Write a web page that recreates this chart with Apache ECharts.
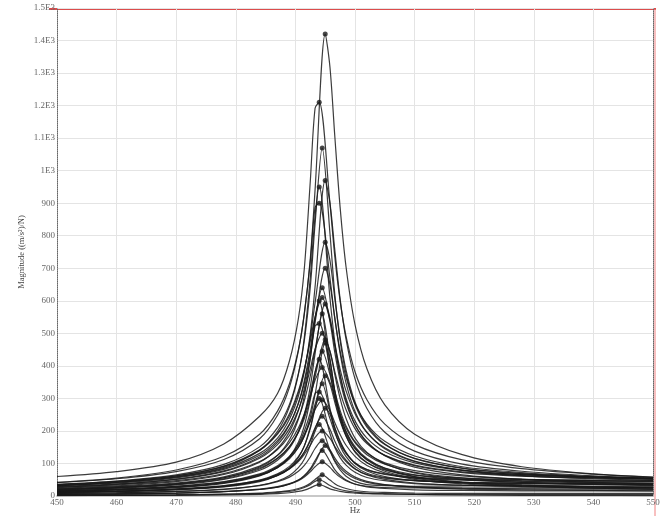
<!DOCTYPE html>
<html>
<head>
<meta charset="utf-8">
<script src="https://cdn.jsdelivr.net/npm/echarts@6/dist/echarts.min.js"></script>
<style>
html, body { margin: 0; padding: 0; background: #fff; }
#chart { width: 664px; height: 516px; }
</style>
</head>
<body>
<div id="chart"></div>
<script>
// frequency grid shared by all curves (Hz), the peak point is slotted in between
var hz = [450, 460, 470, 478, 484, 487, 489, 490.5, 491.5, 492.5, 493.3,
          495.8, 496.6, 497.5, 498.5, 500, 502, 505, 510, 518, 528, 540, 550];
var splitAt = 11;

// peak of each curve (marker)
var peakHz = [495.0, 494.0, 494.5, 495.0, 494.0, 494.0, 495.0, 495.0, 494.5, 494.5, 495.0, 494.5,
              494.0, 494.5, 495.0, 494.5, 494.0, 494.5, 495.0, 494.5, 494.0, 494.5, 495.0, 494.5,
              494.0, 494.5, 494.5, 494.5, 494.5, 494.5, 494.0, 494.0, 495.0, 494.0, 495.0, 494.0];
var peakMag = [1420, 1210, 1070, 970, 950, 900, 780, 700, 640, 610, 590, 560,
               530, 500, 470, 445, 420, 395, 370, 345, 320, 295, 270, 245,
               220, 200, 170, 140, 105, 65, 35, 600, 480, 300, 155, 50];

// magnitude of each curve on the hz grid
var c01 = [42, 55, 80, 122, 190, 261, 345, 449, 559, 730, 941, 1318, 1109, 888, 704, 527, 391, 280, 190, 127, 90, 68, 57];
var c02 = [60, 75, 104, 160, 245, 315, 415, 545, 700, 968, 1192, 899, 738, 600, 491, 382, 296, 221, 158, 111, 84, 67, 58];
var c03 = [36, 46, 65, 97, 151, 210, 281, 376, 478, 642, 836, 807, 622, 478, 376, 281, 212, 158, 116, 86, 69, 59, 54];
var c04 = [32, 42, 58, 85, 131, 178, 236, 307, 382, 499, 643, 900, 758, 606, 481, 360, 269, 196, 138, 98, 76, 62, 55];
var c05 = [32, 42, 59, 88, 141, 199, 274, 374, 488, 672, 860, 608, 475, 374, 300, 231, 178, 136, 102, 79, 66, 58, 54];
var c06 = [41, 53, 75, 112, 176, 248, 334, 446, 563, 720, 887, 669, 549, 446, 365, 284, 221, 168, 123, 90, 72, 60, 54];
var c07 = [35, 45, 62, 91, 140, 190, 246, 317, 387, 488, 594, 724, 609, 488, 387, 289, 217, 160, 115, 85, 68, 58, 53];
var c08 = [31, 40, 56, 82, 125, 170, 221, 284, 347, 438, 533, 650, 547, 438, 347, 260, 196, 145, 106, 80, 66, 58, 53];
var c09 = [29, 37, 52, 77, 120, 165, 219, 286, 355, 452, 548, 536, 442, 355, 286, 219, 167, 124, 89, 65, 51, 42, 38];
var c10 = [34, 44, 62, 92, 142, 193, 253, 323, 390, 476, 550, 541, 467, 390, 323, 253, 195, 148, 107, 79, 62, 53, 48];
var c11 = [26, 34, 47, 69, 106, 143, 186, 240, 293, 369, 450, 548, 461, 369, 293, 219, 165, 125, 93, 72, 61, 55, 51];
var c12 = [19, 24, 34, 51, 79, 110, 147, 197, 250, 336, 437, 422, 325, 250, 197, 147, 111, 82, 59, 43, 34, 28, 25];
var c13 = [24, 31, 44, 66, 104, 146, 197, 263, 331, 424, 522, 394, 323, 263, 215, 167, 132, 102, 78, 62, 52, 47, 44];
var c14 = [28, 36, 51, 75, 116, 158, 207, 265, 320, 391, 451, 444, 383, 320, 265, 207, 161, 125, 95, 74, 63, 56, 53];
var c15 = [16, 20, 28, 41, 64, 87, 114, 149, 185, 242, 312, 415, 321, 242, 185, 135, 102, 80, 64, 55, 51, 49, 48];
var c16 = [20, 26, 36, 53, 83, 115, 152, 199, 247, 315, 381, 373, 307, 247, 199, 152, 115, 85, 60, 41, 31, 24, 21];
var c17 = [14, 19, 26, 39, 62, 88, 121, 165, 216, 297, 380, 269, 210, 165, 133, 102, 81, 66, 55, 49, 46, 44, 43];
var c18 = [22, 29, 40, 59, 92, 125, 164, 209, 253, 308, 356, 350, 303, 253, 209, 164, 127, 98, 73, 56, 46, 41, 38];
var c19 = [16, 21, 30, 43, 66, 90, 117, 150, 184, 231, 282, 343, 289, 231, 184, 137, 103, 76, 55, 40, 33, 28, 25];
var c20 = [12, 15, 21, 31, 49, 68, 91, 121, 154, 207, 269, 260, 200, 154, 121, 91, 70, 57, 47, 42, 39, 38, 37];
var c21 = [15, 19, 27, 40, 63, 88, 119, 159, 200, 256, 315, 238, 195, 159, 130, 101, 81, 68, 57, 51, 49, 47, 46];
var c22 = [17, 21, 30, 44, 68, 93, 122, 156, 189, 230, 266, 262, 226, 189, 156, 122, 94, 71, 51, 37, 29, 24, 21];
var c23 = [12, 15, 22, 32, 48, 66, 85, 110, 134, 169, 206, 251, 211, 169, 134, 100, 77, 60, 48, 41, 38, 36, 35];
var c24 = [11, 14, 20, 29, 46, 63, 84, 110, 136, 173, 210, 205, 169, 136, 110, 84, 65, 51, 40, 33, 30, 28, 27];
var c25 = [8, 10, 14, 21, 33, 46, 63, 87, 113, 156, 199, 141, 110, 87, 70, 54, 42, 34, 28, 24, 22, 21, 21];
var c26 = [11, 15, 20, 30, 46, 63, 83, 106, 128, 156, 180, 177, 153, 128, 106, 83, 66, 55, 47, 42, 40, 40, 39];
var c27 = [8, 10, 14, 20, 32, 44, 58, 76, 94, 120, 146, 142, 117, 94, 76, 58, 45, 35, 27, 21, 19, 17, 16];
var c28 = [5, 6, 9, 13, 20, 27, 37, 49, 63, 84, 109, 106, 81, 63, 49, 37, 30, 26, 25, 24, 25, 25, 26];
var c29 = [5, 6, 9, 13, 20, 27, 36, 47, 58, 74, 90, 88, 72, 58, 47, 36, 28, 23, 19, 17, 16, 16, 16];
var c30 = [2, 3, 4, 6, 9, 13, 17, 23, 29, 39, 51, 49, 38, 29, 23, 17, 13, 11, 9, 8, 8, 8, 8];
var c31 = [1, 2, 2, 3, 5, 7, 10, 14, 18, 25, 32, 22, 18, 14, 11, 9, 7, 6, 5, 4, 4, 4, 4];
var c32 = [21, 26, 37, 56, 89, 125, 173, 236, 308, 424, 543, 384, 300, 236, 190, 146, 112, 86, 65, 50, 42, 37, 34];
var c33 = [21, 27, 38, 56, 86, 117, 152, 195, 238, 300, 366, 445, 375, 300, 238, 178, 134, 99, 71, 52, 42, 36, 32];
var c34 = [10, 13, 19, 28, 44, 63, 86, 118, 154, 212, 272, 192, 150, 118, 95, 73, 57, 47, 38, 33, 30, 29, 28];
var c35 = [5, 7, 9, 14, 21, 29, 38, 49, 61, 80, 103, 137, 106, 80, 61, 45, 35, 32, 30, 31, 33, 34, 34];
var c36 = [2, 2, 3, 5, 7, 11, 14, 20, 26, 35, 45, 32, 25, 20, 16, 12, 9, 7, 5, 3, 2, 2, 1];

var curves = [c01, c02, c03, c04, c05, c06, c07, c08, c09, c10, c11, c12,
              c13, c14, c15, c16, c17, c18, c19, c20, c21, c22, c23, c24,
              c25, c26, c27, c28, c29, c30, c31, c32, c33, c34, c35, c36];

var labelFont = 'Liberation Serif';

var series = [];
for (var i = 0; i < curves.length; i++) {
    var pts = [];
    for (var j = 0; j < hz.length; j++) {
        if (j == splitAt) {
            pts.push([peakHz[i], peakMag[i]]);
        }
        pts.push([hz[j], curves[i][j]]);
    }
    series.push({
        type : 'line',
        data : pts,
        symbol : 'none',
        smooth : 0.3,
        silent : true,
        lineStyle : { color : '#1a1a1a', width : 1.2, opacity : 0.85 },
        z : 2
    });
}
var peaks = [];
for (var k = 0; k < peakHz.length; k++) {
    peaks.push([peakHz[k], peakMag[k]]);
}
series.push({
    type : 'scatter',
    data : peaks,
    symbol : 'circle',
    symbolSize : 5,
    itemStyle : { color : '#1a1a1a' },
    silent : true,
    z : 3
});

var chart = echarts.init(document.getElementById('chart'));
chart.setOption({
    animation : false,
    backgroundColor : '#fff',
    grid : { left : 57, right : 11, top : 8, bottom : 20, outerBoundsMode : 'none', containLabel : false },
    xAxis : {
        type : 'value',
        min : 450,
        max : 550,
        interval : 10,
        name : 'Hz',
        nameLocation : 'middle',
        nameGap : 10,
        nameMoveOverlap : false,
        nameTextStyle : { fontFamily : labelFont, fontSize : 9, color : '#444' },
        axisLine : { lineStyle : { color : '#c8c8c8', width : 2 } },
        axisTick : { show : false },
        axisLabel : { fontFamily : labelFont, fontSize : 9, color : '#666', margin : 2 },
        splitLine : { lineStyle : { color : '#e4e4e4', width : 1 } }
    },
    yAxis : [ {
        type : 'value',
        min : 0,
        max : 1500,
        interval : 100,
        name : 'Magnitude ((m/s\u00b2)/N)',
        nameLocation : 'middle',
        nameGap : 31,
        nameMoveOverlap : false,
        nameTextStyle : { fontFamily : labelFont, fontSize : 8.5, color : '#444' },
        axisLine : { show : true, lineStyle : { color : '#666', type : 'dotted', width : 1 } },
        axisTick : { show : false },
        axisLabel : {
            fontFamily : labelFont,
            fontSize : 9,
            color : '#666',
            margin : 2,
            formatter : function(v) {
                return v >= 1000 ? (v / 1000) + 'E3' : '' + v;
            }
        },
        splitLine : { lineStyle : { color : '#e4e4e4', width : 1 } }
    }, {
        type : 'value',
        min : 0,
        max : 1500,
        position : 'right',
        axisLine : { show : true, lineStyle : { color : '#666', type : 'dotted', width : 1 } },
        axisTick : { show : false },
        axisLabel : { show : false },
        splitLine : { show : false }
    } ],
    graphic : [ {
        type : 'line',
        shape : { x1 : 49, y1 : 9, x2 : 656, y2 : 9 },
        style : { stroke : '#d01010', lineWidth : 1.5 },
        silent : true
    }, {
        type : 'line',
        shape : { x1 : 655, y1 : 9, x2 : 655, y2 : 516 },
        style : { stroke : '#f08080', lineWidth : 1 },
        silent : true
    } ],
    series : series
});
</script>
</body>
</html>
